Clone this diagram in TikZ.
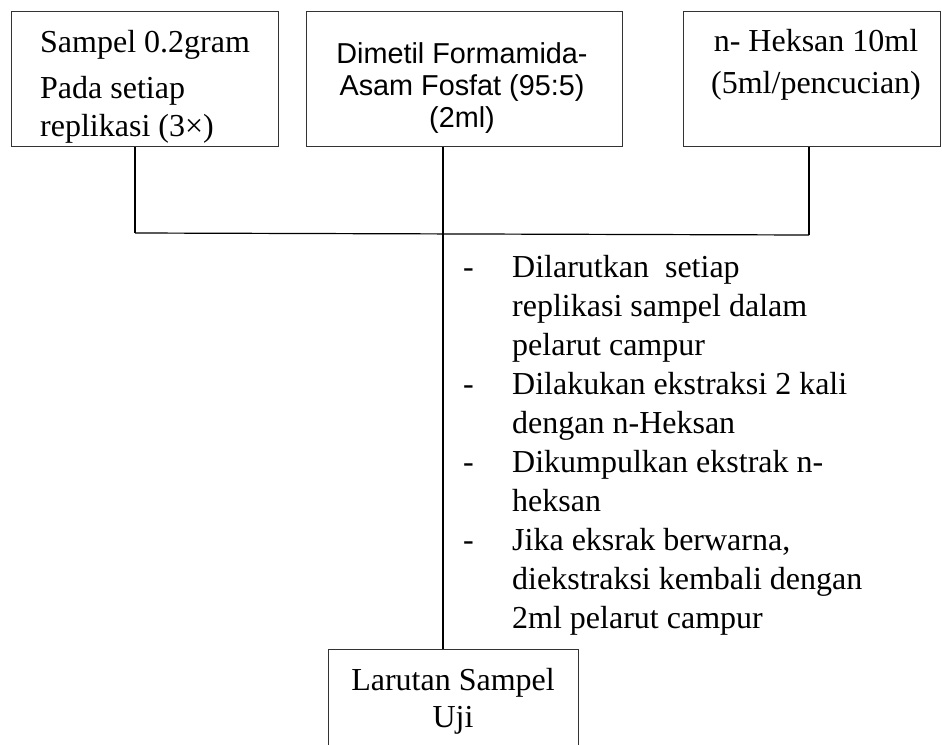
\documentclass[tikz,border=0pt]{standalone}
\usepackage{fontspec}
\setmainfont{Liberation Serif}
\newfontfamily\arialf{Liberation Sans}
\begin{document}
\begin{tikzpicture}[x=1pt,y=-1pt,
  boxst/.style={draw=black!80, line width=1.3pt, inner sep=0pt, anchor=north west},
  conn/.style={draw=black, line width=1.2pt},
  lbl/.style={anchor=base west, inner sep=0pt, font=\fontsize{32}{38}\selectfont},
  clbl/.style={anchor=base, inner sep=0pt, font=\fontsize{32}{38}\selectfont},
  albl/.style={anchor=base, inner sep=0pt, font=\arialf\fontsize{28.8}{33}\selectfont}
]
\clip (0,0) rectangle (942,744);
\useasboundingbox (0,0) rectangle (942,744);
% boxes
\node[boxst, minimum width=267pt, minimum height=135pt] (b1) at (11,11) {};
\node[boxst, minimum width=316pt, minimum height=135pt] (b2) at (306,11) {};
\node[boxst, minimum width=257pt, minimum height=135pt] (b3) at (683,11) {};
\node[boxst, minimum width=250pt, minimum height=130pt] (b4) at (328,649) {};
% box texts
\node[lbl] (t11) at (40,52) {Sampel 0.2gram};
\node[lbl] (t12) at (40,98) {Pada setiap};
\node[lbl] (t13) at (40,136) {replikasi (3×)};
\node[albl] (t21) at (462,63) {Dimetil Formamida-};
\node[albl] (t22) at (462,95) {Asam Fosfat (95:5)};
\node[albl] (t23) at (462,127) {(2ml)};
\node[clbl] (t31) at (816,51) {n- Heksan 10ml};
\node[clbl] (t32) at (816,93) {(5ml/pencucian)};
\node[clbl] (t41) at (453,690) {Larutan Sampel};
\node[clbl] (t42) at (453,727) {Uji};
% bullet list
\node[lbl] (d1) at (463,277) {-};
\node[lbl] (s1) at (512,277) {Dilarutkan~~setiap};
\node[lbl] (s2) at (512,316) {replikasi sampel dalam};
\node[lbl] (s3) at (512,355) {pelarut campur};
\node[lbl] (d2) at (463,394) {-};
\node[lbl] (s4) at (512,394) {Dilakukan ekstraksi 2 kali};
\node[lbl] (s5) at (512,433) {dengan n-Heksan};
\node[lbl] (d3) at (463,472) {-};
\node[lbl] (s6) at (512,472) {Dikumpulkan ekstrak n-};
\node[lbl] (s7) at (512,511) {heksan};
\node[lbl] (d4) at (463,550) {-};
\node[lbl] (s8) at (512,550) {Jika eksrak berwarna,};
\node[lbl] (s9) at (512,589) {diekstraksi kembali dengan};
\node[lbl] (s10) at (512,628) {2ml pelarut campur};
% connectors
\coordinate (j1) at (135,233);
\coordinate (j2) at (443,234);
\coordinate (j3) at (809,235);
\draw[conn] (b1.south -| j1) -- (j1);
\draw[conn] (b3.south -| j3) -- (j3);
\draw[conn] (j1) -- (j3);
\draw[conn] (b2.south -| j2) -- (b4.north -| j2);
\end{tikzpicture}
\end{document}
